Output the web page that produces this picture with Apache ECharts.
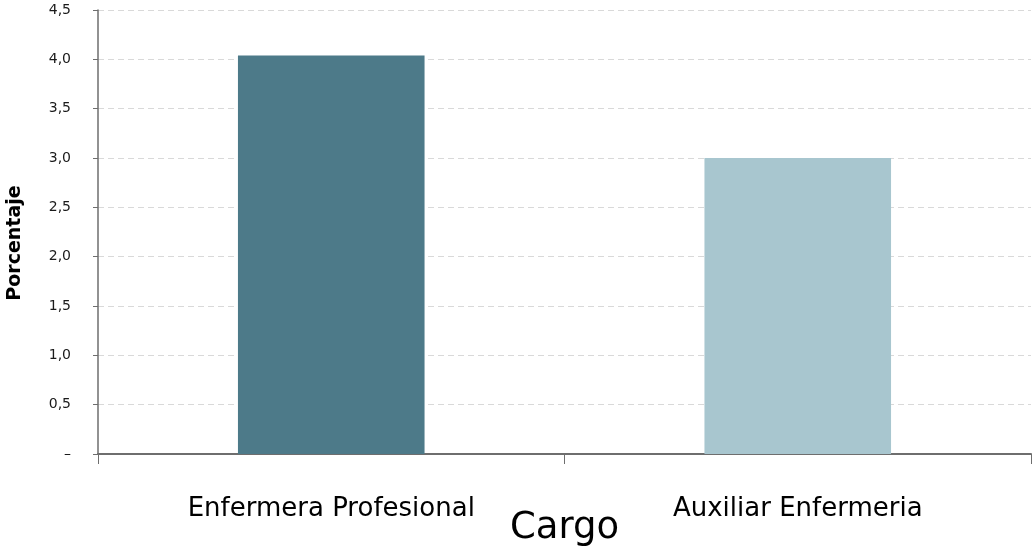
<!DOCTYPE html>
<html>
<head>
<meta charset="utf-8">
<script src="https://cdn.jsdelivr.net/npm/echarts@6/dist/echarts.min.js"></script>
<style>
  html, body { margin: 0; padding: 0; background: #fff; }
  #chart { width: 1032px; height: 550px; }
</style>
</head>
<body>
<div id="chart"></div>
<script>
// Porcentaje por cargo
const categories = ['Enfermera Profesional', 'Auxiliar Enfermeria'];
const porcentajes = [4.04, 3.0];
const barColors = ['#4d7a89', '#a8c6cf'];

const FONT = '"DejaVu Sans", Verdana, sans-serif';

const chart = echarts.init(document.getElementById('chart'), null, { renderer: 'canvas' });

chart.setOption({
  animation: false,
  grid: { left: 98, right: 1, top: 10, bottom: 96, containLabel: false, outerBoundsMode: 'none' },
  xAxis: {
    type: 'category',
    data: categories,
    name: 'Cargo',
    nameLocation: 'middle',
    nameGap: 56,
    nameMoveOverlap: false,
    nameTextStyle: { fontFamily: FONT, fontSize: 37, color: '#000' },
    axisLine: { lineStyle: { color: '#6e6e6e', width: 2 } },
    axisTick: { show: true, alignWithLabel: false, length: 10, lineStyle: { color: '#6e6e6e' } },
    axisLabel: { fontFamily: FONT, fontSize: 26, color: '#000', margin: 42, interval: 0 }
  },
  yAxis: {
    type: 'value',
    min: 0,
    max: 4.5,
    interval: 0.5,
    name: 'Porcentaje',
    nameLocation: 'middle',
    nameGap: 73,
    nameMoveOverlap: false,
    nameTextStyle: { fontFamily: FONT, fontSize: 19, fontWeight: 'bold', color: '#000', padding: [0, 22, 0, 0] },
    axisLine: { show: true, lineStyle: { color: '#6e6e6e', width: 1.5 } },
    axisTick: { show: true, length: 5, lineStyle: { color: '#6e6e6e' } },
    splitLine: { show: true, lineStyle: { color: '#d9d9d9', type: [6, 4] } },
    axisLabel: {
      fontFamily: FONT, fontSize: 14, color: '#1a1a1a', margin: 27,
      formatter: function (v) {
        return v === 0 ? '–' : v.toFixed(1).replace('.', ',');
      }
    }
  },
  series: [{
    type: 'bar',
    barWidth: '40%',
    data: porcentajes.map((v, i) => ({ value: v, itemStyle: { color: barColors[i] } }))
  }]
});
</script>
</body>
</html>
